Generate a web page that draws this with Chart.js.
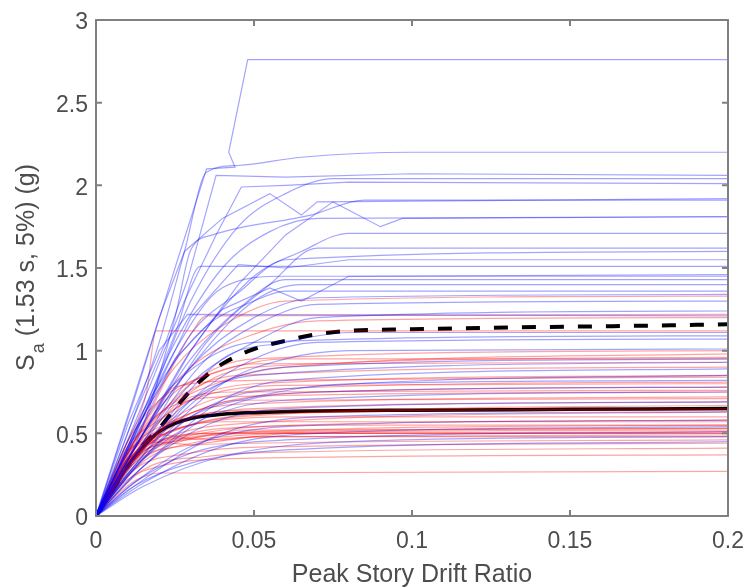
<!DOCTYPE html>
<html>
<head>
<meta charset="utf-8">
<script src="https://cdn.jsdelivr.net/npm/chart.js@4/dist/chart.umd.min.js"></script>
<style>
  html, body { margin: 0; padding: 0; background: #fff; overflow: hidden; }
  #wrap { width: 747px; height: 587px; }
</style>
</head>
<body>
<div id="wrap"><canvas id="idaCanvas"></canvas></div>
<script>
// tick labels
var xTickLabels = ['0', '0.05', '0.1', '0.15', '0.2'];
var yTickLabels = ['0', '0.5', '1', '1.5', '2', '2.5', '3'];

// IDA curves, flat lists of drift,Sa pairs
var blueCurves = [
    [0,0, 0.012,0.7, 0.025,1.5, 0.035,2.1, 0.044,2.11, 0.042,2.2, 0.048,2.76, 0.2,2.76],
    [0,0, 0.01,0.5, 0.02,1.05, 0.028,1.6, 0.035,2.08, 0.045,2.12, 0.065,2.17, 0.1,2.2, 0.2,2.2],
    [0,0, 0.012,0.6, 0.022,1.05, 0.029,1.43, 0.038,2.06, 0.06,2.05, 0.1,2.07, 0.2,2.06],
    [0,0, 0.012,0.55, 0.028,1.3, 0.038,1.7, 0.046,1.99, 0.06,2.0, 0.08,2.02, 0.2,2.01],
    [0,0, 0.015,0.6, 0.03,1.3, 0.045,1.75, 0.06,1.95, 0.075,2.04, 0.2,2.04],
    [0,0, 0.015,0.55, 0.025,1.2, 0.03,1.61, 0.037,1.7, 0.068,1.82, 0.085,1.91, 0.2,1.91],
    [0,0, 0.012,0.5, 0.025,1.1, 0.033,1.51, 0.2,1.51],
    [0,0, 0.015,0.5, 0.03,1.0, 0.045,1.4, 0.06,1.7, 0.075,1.9, 0.09,1.75, 0.097,1.8, 0.2,1.81],
    [0,0, 0.012,0.4, 0.03,1.0, 0.05,1.45, 0.065,1.6, 0.08,1.71, 0.2,1.71],
    [0,0, 0.015,0.45, 0.035,1.05, 0.055,1.4, 0.07,1.62, 0.2,1.62],
    [0,0, 0.012,0.45, 0.03,1.1, 0.045,1.35, 0.06,1.55, 0.2,1.6],
    [0,0, 0.01,0.4, 0.025,1.0, 0.04,1.38, 0.06,1.45, 0.2,1.45],
    [0,0, 0.015,0.5, 0.03,0.95, 0.045,1.25, 0.06,1.43, 0.2,1.43],
    [0,0, 0.01,0.55, 0.02,1.0, 0.029,1.22, 0.2,1.21],
    [0,0, 0.012,0.4, 0.03,0.9, 0.05,1.2, 0.07,1.32, 0.2,1.34],
    [0,0, 0.015,0.45, 0.035,0.95, 0.05,1.15, 0.07,1.28, 0.2,1.3],
    [0,0, 0.012,0.35, 0.03,0.8, 0.05,1.05, 0.07,1.2, 0.2,1.24],
    [0,0, 0.015,0.4, 0.04,0.95, 0.06,1.05, 0.08,1.11, 0.2,1.11],
    [0,0, 0.012,0.3, 0.03,0.7, 0.05,0.95, 0.07,1.05, 0.2,1.07],
    [0,0, 0.015,0.35, 0.04,0.8, 0.06,0.95, 0.08,1.0, 0.2,1.01],
    [0,0, 0.012,0.3, 0.035,0.75, 0.06,0.9, 0.2,0.95],
    [0,0, 0.01,0.3, 0.03,0.7, 0.05,0.85, 0.2,0.93],
    [0,0, 0.015,0.3, 0.04,0.7, 0.06,0.82, 0.2,0.89],
    [0,0, 0.012,0.28, 0.03,0.6, 0.05,0.75, 0.2,0.85],
    [0,0, 0.015,0.3, 0.04,0.65, 0.07,0.75, 0.2,0.78],
    [0,0, 0.01,0.25, 0.03,0.55, 0.06,0.7, 0.2,0.75],
    [0,0, 0.012,0.25, 0.035,0.55, 0.06,0.65, 0.2,0.69],
    [0,0, 0.015,0.22, 0.04,0.5, 0.07,0.6, 0.2,0.63],
    [0,0, 0.012,0.2, 0.03,0.42, 0.06,0.54, 0.2,0.58],
    [0,0, 0.015,0.2, 0.04,0.42, 0.07,0.5, 0.2,0.54],
    [0,0, 0.012,0.2, 0.03,0.38, 0.06,0.46, 0.2,0.51],
    [0,0, 0.015,0.18, 0.04,0.36, 0.08,0.45, 0.2,0.48],
    [0,0, 0.012,0.18, 0.03,0.32, 0.06,0.4, 0.2,0.45],
    [0,0, 0.01,0.6, 0.02,1.2, 0.028,1.6, 0.04,1.8, 0.055,1.95, 0.065,1.82, 0.07,1.9, 0.2,1.92],
    [0,0, 0.012,0.5, 0.025,1.05, 0.04,1.5, 0.055,1.72, 0.07,1.8, 0.2,1.81],
    [0,0, 0.015,0.6, 0.03,1.2, 0.045,1.52, 0.06,1.5, 0.08,1.55, 0.2,1.55],
    [0,0, 0.01,0.35, 0.03,0.9, 0.05,1.3, 0.065,1.4, 0.2,1.4],
    [0,0, 0.01,0.45, 0.02,0.8, 0.035,1.15, 0.05,1.3, 0.06,1.36, 0.2,1.36],
    [0,0, 0.012,0.5, 0.025,0.95, 0.04,1.25, 0.055,1.38, 0.065,1.3, 0.08,1.45, 0.2,1.46],
    [0,0, 0.01,0.4, 0.02,0.7, 0.035,0.95, 0.05,1.05, 0.2,1.09],
    [0,0, 0.015,0.35, 0.03,0.6, 0.05,0.72, 0.08,0.8, 0.2,0.82]
];

var redCurves = [
    [0,0, 0.012,0.5, 0.025,0.9, 0.04,1.15, 0.06,1.3, 0.2,1.33],
    [0,0, 0.015,0.55, 0.03,1.1, 0.035,1.21, 0.2,1.22],
    [0,0, 0.01,0.45, 0.016,0.75, 0.019,1.12, 0.2,1.12],
    [0,0, 0.012,0.4, 0.03,0.8, 0.05,0.95, 0.2,1.0],
    [0,0, 0.015,0.45, 0.03,0.75, 0.05,0.9, 0.2,0.96],
    [0,0, 0.012,0.42, 0.025,0.7, 0.045,0.85, 0.2,0.9],
    [0,0, 0.01,0.35, 0.025,0.65, 0.05,0.8, 0.2,0.85],
    [0,0, 0.012,0.38, 0.03,0.65, 0.06,0.77, 0.2,0.81],
    [0,0, 0.015,0.42, 0.03,0.62, 0.06,0.74, 0.2,0.78],
    [0,0, 0.01,0.32, 0.025,0.58, 0.05,0.68, 0.2,0.72],
    [0,0, 0.012,0.35, 0.025,0.55, 0.05,0.65, 0.2,0.69],
    [0,0, 0.015,0.4, 0.03,0.55, 0.06,0.62, 0.2,0.65],
    [0,0, 0.01,0.3, 0.02,0.45, 0.04,0.55, 0.2,0.63],
    [0,0, 0.012,0.32, 0.025,0.47, 0.05,0.54, 0.2,0.58],
    [0,0, 0.01,0.3, 0.02,0.42, 0.04,0.5, 0.2,0.55],
    [0,0, 0.012,0.3, 0.025,0.44, 0.05,0.5, 0.2,0.52],
    [0,0, 0.015,0.33, 0.03,0.44, 0.06,0.48, 0.2,0.49],
    [0,0, 0.01,0.28, 0.02,0.4, 0.05,0.44, 0.2,0.46],
    [0,0, 0.012,0.28, 0.03,0.38, 0.06,0.42, 0.2,0.44],
    [0,0, 0.015,0.28, 0.035,0.36, 0.07,0.39, 0.2,0.41],
    [0,0, 0.01,0.22, 0.02,0.3, 0.05,0.35, 0.2,0.37],
    [0,0, 0.008,0.15, 0.013,0.22, 0.02,0.26, 0.2,0.27],
    [0,0, 0.01,0.45, 0.02,0.7, 0.035,0.85, 0.05,0.92, 0.2,0.93],
    [0,0, 0.012,0.45, 0.02,0.62, 0.04,0.72, 0.2,0.75],
    [0,0, 0.015,0.5, 0.025,0.78, 0.05,0.82, 0.2,0.84],
    [0,0, 0.01,0.3, 0.02,0.48, 0.03,0.55, 0.06,0.6, 0.2,0.6],
    [0,0, 0.012,0.35, 0.022,0.5, 0.04,0.57, 0.2,0.57],
    [0,0, 0.008,0.25, 0.02,0.45, 0.035,0.5, 0.2,0.53],
    [0,0, 0.012,0.38, 0.025,0.52, 0.045,0.6, 0.2,0.67],
    [0,0, 0.01,0.38, 0.02,0.62, 0.035,0.78, 0.06,0.9, 0.2,0.98],
    [0,0, 0.015,0.55, 0.03,0.9, 0.05,1.1, 0.07,1.18, 0.2,1.2],
    [0,0, 0.01,0.4, 0.018,0.5, 0.03,0.47, 0.045,0.52, 0.2,0.53],
    [0,0, 0.012,0.42, 0.02,0.46, 0.035,0.5, 0.2,0.5],
    [0,0, 0.008,0.3, 0.015,0.43, 0.025,0.47, 0.04,0.46, 0.06,0.5, 0.2,0.51],
    [0,0, 0.01,0.35, 0.018,0.45, 0.03,0.43, 0.05,0.48, 0.2,0.48],
    [0,0, 0.012,0.4, 0.02,0.5, 0.03,0.72, 0.045,0.75, 0.2,0.76],
    [0,0, 0.008,0.32, 0.015,0.48, 0.025,0.58, 0.045,0.7, 0.2,0.71],
    [0,0, 0.01,0.42, 0.02,0.58, 0.03,0.7, 0.06,0.79, 0.2,0.8],
    [0,0, 0.012,0.45, 0.025,0.75, 0.04,0.88, 0.06,0.95, 0.2,0.95],
    [0,0, 0.009,0.3, 0.02,0.52, 0.03,0.6, 0.05,0.64, 0.2,0.64],
    [0,0, 0.01,0.33, 0.022,0.44, 0.035,0.47, 0.06,0.5, 0.2,0.5],
    [0,0, 0.013,0.36, 0.025,0.46, 0.04,0.52, 0.07,0.55, 0.2,0.55]
];

// median (solid) and 84th percentile (dashed)
var medianCurve = [0,0, 0.005,0.15, 0.01,0.3, 0.015,0.42, 0.02,0.51, 0.025,0.56, 0.03,0.59, 0.04,0.615, 0.05,0.625, 0.07,0.635, 0.1,0.64, 0.15,0.645, 0.2,0.65];
var upperCurve = [0,0, 0.005,0.15, 0.01,0.3, 0.015,0.43, 0.02,0.53, 0.025,0.65, 0.03,0.76, 0.035,0.85, 0.04,0.92, 0.045,0.97, 0.05,1.01, 0.06,1.06, 0.07,1.1, 0.08,1.12, 0.1,1.13, 0.13,1.14, 0.17,1.15, 0.2,1.16];

function toPoints(flat) {
    var pts = [];
    for (var i = 0; i < flat.length; i += 2) {
        pts.push({ x: flat[i], y: flat[i + 1] });
    }
    return pts;
}

// smooth only curves that never turn back; kinked ones stay straight
function isSmoothable(flat) {
    for (var i = 2; i < flat.length; i += 2) {
        if (flat[i] < flat[i - 2] || flat[i + 1] < flat[i - 1]) return false;
    }
    return true;
}

function curveSet(flat, color) {
    var ds = { data: toPoints(flat), borderColor: color, borderWidth: 1.2, pointRadius: 0, showLine: true, tension: 0 };
    if (isSmoothable(flat)) ds.cubicInterpolationMode = 'monotone';
    return ds;
}

var datasets = [];
blueCurves.forEach(function (c) { datasets.push(curveSet(c, 'rgba(0,0,255,0.36)')); });
redCurves.forEach(function (c) { datasets.push(curveSet(c, 'rgba(255,0,0,0.36)')); });
datasets.push({ data: toPoints(upperCurve), borderColor: '#000', borderWidth: 4, borderDash: [14, 14], pointRadius: 0, showLine: true, cubicInterpolationMode: 'monotone' });
datasets.push({ data: toPoints(medianCurve), borderColor: '#000', borderWidth: 3.5, pointRadius: 0, showLine: true, cubicInterpolationMode: 'monotone' });

var textColor = '#4d4d4d';
var axisColor = '#808080';
var fontFamily = '"Liberation Sans", Arial, Helvetica, sans-serif';

// box round the plot, inward tick marks and the axis titles
var framePlugin = {
    id: 'frame',
    afterDraw: function (chart) {
        var ctx = chart.ctx, a = chart.chartArea;
        var xs = chart.scales.x, ys = chart.scales.y;
        ctx.save();
        ctx.strokeStyle = axisColor;
        ctx.lineWidth = 2;
        ctx.strokeRect(a.left, a.top, a.right - a.left, a.bottom - a.top);
        ctx.beginPath();
        xs.ticks.forEach(function (t) {
            var px = xs.getPixelForValue(t.value);
            ctx.moveTo(px, a.bottom); ctx.lineTo(px, a.bottom - 6);
            ctx.moveTo(px, a.top); ctx.lineTo(px, a.top + 6);
        });
        ys.ticks.forEach(function (t) {
            var py = ys.getPixelForValue(t.value);
            ctx.moveTo(a.left, py); ctx.lineTo(a.left + 6, py);
            ctx.moveTo(a.right, py); ctx.lineTo(a.right - 6, py);
        });
        ctx.stroke();

        ctx.fillStyle = textColor;
        ctx.textBaseline = 'alphabetic';

        // x axis title
        ctx.font = '25px ' + fontFamily;
        ctx.textAlign = 'center';
        ctx.fillText('Peak Story Drift Ratio', (a.left + a.right) / 2, 582);

        // y axis title, S with subscript a
        ctx.translate(34, (a.top + a.bottom) / 2);
        ctx.rotate(-Math.PI / 2);
        ctx.textAlign = 'left';
        var big = '25px ' + fontFamily, small = '18px ' + fontFamily;
        var rest = ' (1.53 s, 5%) (g)';
        ctx.font = big;
        var wS = ctx.measureText('S').width, wR = ctx.measureText(rest).width;
        ctx.font = small;
        var wA = ctx.measureText('a').width;
        var x0 = -(wS + wA + wR) / 2;
        ctx.font = big;
        ctx.fillText('S', x0, 0);
        ctx.font = small;
        ctx.fillText('a', x0 + wS + 1, 10);
        ctx.font = big;
        ctx.fillText(rest, x0 + wS + wA + 1, 0);
        ctx.restore();
    }
};

var chart = new Chart(document.getElementById('idaCanvas'), {
    type: 'scatter',
    data: { datasets: datasets },
    options: {
        responsive: true,
        maintainAspectRatio: false,
        animation: false,
        layout: { padding: { left: 0, right: 19, top: 20, bottom: 0 } },
        plugins: { legend: { display: false }, tooltip: { enabled: false } },
        scales: {
            x: {
                type: 'linear',
                min: 0, max: 0.2,
                afterFit: function (s) { s.height = 71; s.paddingLeft = 0; s.paddingRight = 0; },
                grid: { display: false, drawTicks: false },
                border: { display: false },
                ticks: {
                    stepSize: 0.05,
                    padding: 12,
                    color: textColor,
                    font: { size: 23, family: fontFamily },
                    callback: function (v, i) { return xTickLabels[i]; }
                }
            },
            y: {
                type: 'linear',
                min: 0, max: 3,
                afterFit: function (s) { s.width = 96; s.paddingTop = 0; s.paddingBottom = 0; },
                grid: { display: false, drawTicks: false },
                border: { display: false },
                ticks: {
                    stepSize: 0.5,
                    padding: 8,
                    labelOffset: 3,
                    color: textColor,
                    font: { size: 23, family: fontFamily },
                    callback: function (v, i) { return yTickLabels[i]; }
                }
            }
        }
    },
    plugins: [framePlugin]
});
</script>
</body>
</html>
